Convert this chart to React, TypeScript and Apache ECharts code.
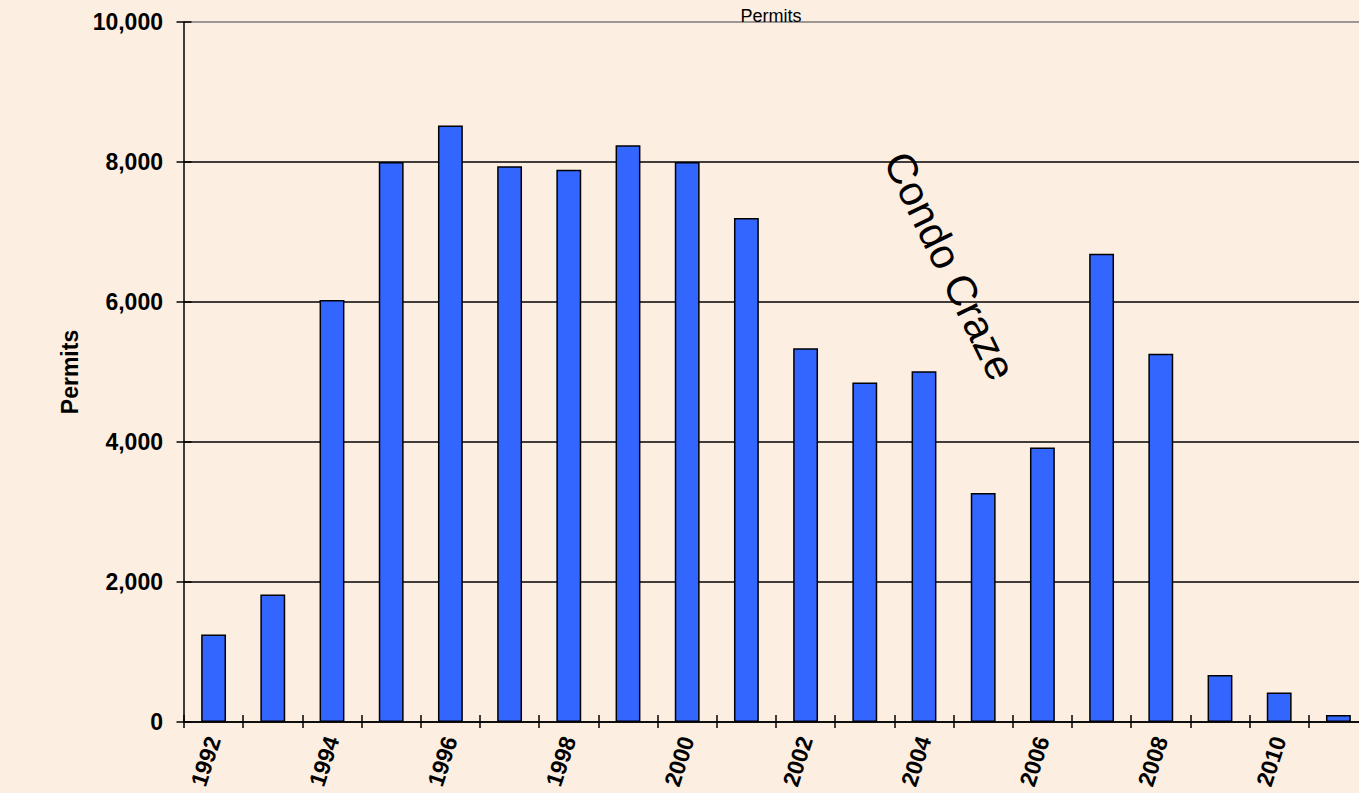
import React, { useEffect, useRef } from "react";
import * as echarts from "echarts";

// Annual residential building permits
const years: string[] = [
  "1992", "1993", "1994", "1995", "1996", "1997", "1998", "1999", "2000", "2001",
  "2002", "2003", "2004", "2005", "2006", "2007", "2008", "2009", "2010", "2011",
];
const permits: number[] = [
  1250, 1820, 6030, 8000, 8520, 7940, 7890, 8240, 8000, 7200,
  5340, 4850, 5010, 3270, 3920, 6690, 5260, 670, 420, 100,
];
const yMin = 0;
const yMax = 10000;
const yStep = 2000;

const FONT = "'Liberation Sans', Arial, Helvetica, sans-serif";
const BG = "#FCEEE1";
const W = 1359;
const H = 793;
// the plot runs slightly past the right edge of the visible frame
const PLOT_OVERHANG = 9;

export default function App() {
  const ref = useRef<HTMLDivElement>(null);

  useEffect(() => {
    if (!ref.current) return;
    const chart = echarts.init(ref.current, undefined, { renderer: "svg" });

    const gridColors = ["#000", "#000", "#000", "#000", "#000", "#7a7a7a"];
    const tickStyle = { color: "#000", width: 1.5 };

    chart.setOption({
      animation: false,
      backgroundColor: BG,
      textStyle: { fontFamily: FONT },
      title: {
        text: "Permits",
        left: 766,
        top: 2,
        textAlign: "center",
        textStyle: { fontSize: 18, fontWeight: "normal", color: "#000", fontFamily: FONT },
      },
      grid: { left: 184, right: 0, top: 22, bottom: 71, containLabel: false },
      xAxis: [
        {
          type: "category",
          data: years,
          position: "bottom",
          boundaryGap: true,
          axisLine: { show: true, lineStyle: { color: "#000", width: 1.5 } },
          axisTick: { show: false },
          axisLabel: {
            interval: 1,
            rotate: 72,
            margin: 15,
            fontSize: 23,
            fontWeight: "bold",
            color: "#000",
            fontFamily: FONT,
          },
          splitLine: { show: false },
        },
        {
          // carries the tick marks that straddle the category axis
          type: "category",
          data: years,
          position: "bottom",
          offset: -7,
          boundaryGap: true,
          axisLine: { show: false },
          axisTick: { show: true, interval: 0, length: 13, lineStyle: tickStyle },
          axisLabel: { show: false },
          splitLine: { show: false },
        },
      ],
      yAxis: [
        {
          type: "value",
          min: yMin,
          max: yMax,
          interval: yStep,
          position: "left",
          name: "Permits",
          nameLocation: "middle",
          nameRotate: 90,
          nameGap: 92,
          nameTextStyle: { fontSize: 23, fontWeight: "bold", color: "#000", fontFamily: FONT },
          axisLine: { show: true, lineStyle: { color: "#000", width: 1.5 } },
          axisTick: { show: false },
          axisLabel: {
            margin: 21,
            fontSize: 23,
            fontWeight: "bold",
            color: "#000",
            fontFamily: FONT,
            formatter: (v: number) => v.toLocaleString("en-US"),
          },
          splitLine: { show: true, lineStyle: { color: gridColors, width: 1.5 } },
        },
        {
          // carries the tick marks that straddle the value axis
          type: "value",
          min: yMin,
          max: yMax,
          interval: yStep,
          position: "left",
          offset: -7.5,
          axisLine: { show: false },
          axisTick: { show: true, length: 15, lineStyle: tickStyle },
          axisLabel: { show: false },
          splitLine: { show: false },
        },
      ],
      series: [
        {
          type: "bar",
          name: "Permits",
          data: permits,
          xAxisIndex: 0,
          yAxisIndex: 0,
          barWidth: "42%",
          itemStyle: { color: "#3366FF", borderColor: "#000", borderWidth: 1.5 },
        },
      ],
      graphic: [
        {
          type: "text",
          x: 950,
          y: 266,
          rotation: (-64 * Math.PI) / 180,
          z: 10,
          style: {
            text: "Condo Craze",
            font: `42px ${FONT}`,
            fill: "#000",
            align: "center",
            verticalAlign: "middle",
          },
        },
      ],
    });

    return () => chart.dispose();
  }, []);

  return (
    <div
      style={{ position: "fixed", left: 0, top: 0, width: W, height: H, overflow: "hidden", background: BG }}
    >
      <div ref={ref} style={{ width: W + PLOT_OVERHANG, height: H }} />
    </div>
  );
}
